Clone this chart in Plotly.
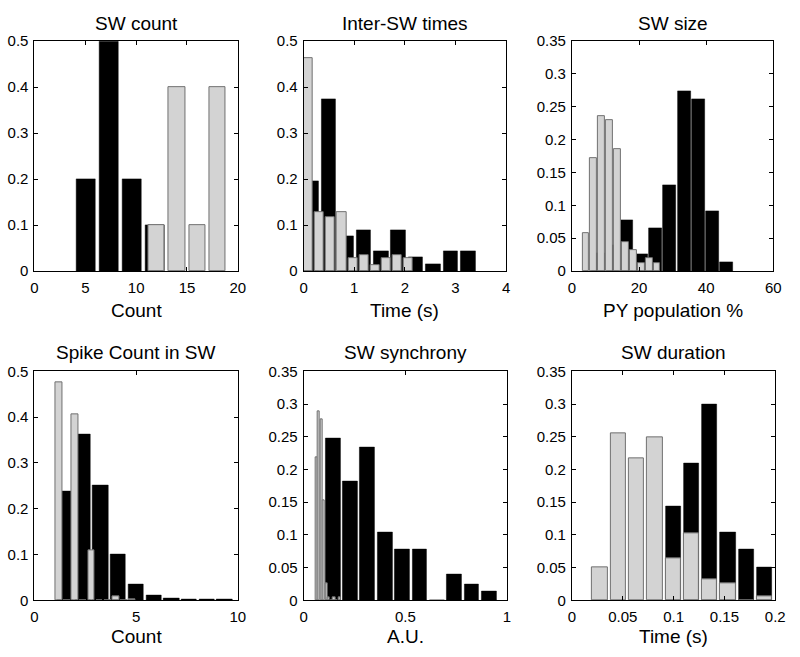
import plotly.graph_objects as go

# SW count
count_black_x = [5.1, 7.35, 9.6, 11.85]
count_black_y = [0.2, 0.5, 0.2, 0.1]
count_gray_x = [12, 14, 16, 18]
count_gray_y = [0.1, 0.4, 0.1, 0.4]

# Inter-SW times
inter_black_x = [0.15, 0.495, 0.84, 1.185, 1.53, 1.87, 2.215, 2.56, 2.905, 3.25]
inter_black_y = [0.196, 0.374, 0.076, 0.09, 0.044, 0.09, 0.03, 0.016, 0.044, 0.044]
inter_gray_x = [0.09, 0.31, 0.53, 0.75, 0.97, 1.19, 1.41, 1.63, 1.85, 2.07]
inter_gray_y = [0.463, 0.129, 0.117, 0.129, 0.027, 0.034, 0.013, 0.027, 0.034, 0.027]

# SW size
size_black_x = [8.0, 12.2, 16.4, 20.7, 24.9, 29.15, 33.4, 37.6, 41.85, 46.1]
size_black_y = [0.028, 0.04, 0.078, 0.026, 0.065, 0.131, 0.274, 0.261, 0.091, 0.013]
size_gray_x = [4.15, 6.5, 8.86, 11.2, 13.57, 15.93, 18.28, 20.64, 22.99, 25.35]
size_gray_y = [0.058, 0.172, 0.236, 0.23, 0.186, 0.044, 0.032, 0.012, 0.019, 0.012]

# Spike count in SW
spike_black_x = [1.51, 2.38, 3.25, 4.12, 4.99, 5.86, 6.73, 7.6, 8.47, 9.34]
spike_black_y = [0.238, 0.362, 0.252, 0.1, 0.035, 0.011, 0.004, 0.001, 0.001, 0.001]
spike_gray_x = [1.2, 1.6, 2.0, 2.4, 2.8, 3.2, 3.6, 4.0, 4.4, 4.8]
spike_gray_y = [0.475, 0, 0.405, 0, 0.11, 0, 0, 0.008, 0, 0.002]

# SW synchrony
sync_black_x = [0.144, 0.229, 0.314, 0.4, 0.485, 0.57, 0.655, 0.74, 0.826, 0.911]
sync_black_y = [0.247, 0.182, 0.234, 0.104, 0.078, 0.078, 0, 0.039, 0.025, 0.013]
sync_gray_x = [0.0625, 0.075, 0.0875, 0.1, 0.1125, 0.125, 0.1375, 0.15, 0.1625, 0.175]
sync_gray_y = [0.218, 0.289, 0.276, 0.153, 0.026, 0.005, 0, 0.005, 0, 0.005]

# SW duration
dur_x = [0.0275, 0.0455, 0.0635, 0.0815, 0.0995, 0.1175, 0.1355, 0.1535, 0.1715, 0.1895]
dur_black_y = [0, 0, 0, 0, 0.143, 0.209, 0.3, 0.104, 0.078, 0.051]
dur_gray_y = [0.05, 0.255, 0.217, 0.249, 0.064, 0.102, 0.032, 0.026, 0, 0.006]

W, H = 800, 657
FONT = "Liberation Sans, Arial, sans-serif"

# (title, xlabel, black x/y/width, gray x/y/width, x range, x ticks, y max, y step, box px)
panels = [
    ("SW count", "Count", count_black_x, count_black_y, 1.85, count_gray_x, count_gray_y, 1.6,
     [0, 20], [0, 5, 10, 15, 20], 0.5, 0.1, (31, 238, 33, 269)),
    ("Inter-SW times", "Time (s)", inter_black_x, inter_black_y, 0.29, inter_gray_x, inter_gray_y, 0.18,
     [0, 4], [0, 1, 2, 3, 4], 0.5, 0.1, (305, 511, 33, 269)),
    ("SW size", "PY population %", size_black_x, size_black_y, 3.8, size_gray_x, size_gray_y, 2.0,
     [0, 60], [0, 20, 40, 60], 0.35, 0.05, (578, 783, 33, 269)),
    ("Spike Count in SW", "Count", spike_black_x, spike_black_y, 0.75, spike_gray_x, spike_gray_y, 0.33,
     [0, 10], [0, 5, 10], 0.5, 0.1, (31, 238, 372, 607)),
    ("SW synchrony", "A.U.", sync_black_x, sync_black_y, 0.073, sync_gray_x, sync_gray_y, 0.0105,
     [0, 1], [0, 0.5, 1], 0.35, 0.05, (305, 512, 372, 607)),
    ("SW duration", "Time (s)", dur_x, dur_black_y, 0.0151, dur_x, dur_gray_y, 0.0151,
     [0, 0.2], [0, 0.05, 0.1, 0.15, 0.2], 0.35, 0.05, (578, 785, 372, 607)),
]

fig = go.Figure()
annotations = []
for i, (title, xlabel, bx, by, bw, gx, gy, gw, xr, xt, ymax, ystep, box) in enumerate(panels):
    n = "" if i == 0 else str(i + 1)
    x0, x1, y0, y1 = box
    fig.add_trace(go.Bar(x=bx, y=by, width=bw, xaxis="x" + n, yaxis="y" + n,
                         marker=dict(color="black", line=dict(color="black", width=0.5)),
                         showlegend=False))
    fig.add_trace(go.Bar(x=gx, y=gy, width=gw, xaxis="x" + n, yaxis="y" + n,
                         marker=dict(color="#d3d3d3", line=dict(color="#707070", width=1)),
                         showlegend=False))
    axis_style = dict(showline=True, linecolor="black", linewidth=1, mirror="ticks",
                      ticks="inside", ticklen=4, tickcolor="black", showgrid=False,
                      zeroline=False, tickfont=dict(family=FONT, size=15, color="black"))
    fig.layout["xaxis" + n] = dict(domain=[x0 / W, x1 / W], anchor="y" + n, range=xr,
                                   tickvals=xt, ticklabelstandoff=3, **axis_style)
    fig.layout["yaxis" + n] = dict(domain=[1 - y1 / H, 1 - y0 / H], anchor="x" + n,
                                   range=[0, ymax], dtick=ystep, tick0=0,
                                   ticklabelstandoff=2, **axis_style)
    cx = (x0 + x1) / 2 / W
    ty = 14.5 if y0 < 100 else 353
    ly = 309 if y0 < 100 else 644
    annotations.append(dict(text=title, x=cx, y=1 - ty / H, xref="paper", yref="paper",
                            showarrow=False, xanchor="center", yanchor="middle",
                            font=dict(family=FONT, size=19, color="black")))
    annotations.append(dict(text=xlabel, x=cx, y=1 - ly / H, xref="paper", yref="paper",
                            showarrow=False, xanchor="center", yanchor="middle",
                            font=dict(family=FONT, size=19, color="black")))

fig.update_layout(autosize=True, margin=dict(l=0, r=0, t=0, b=0),
                  barmode="overlay", bargap=0, plot_bgcolor="white", paper_bgcolor="white",
                  annotations=annotations)

# fill the window exactly: drop the default body margin, then let plotly re-measure
fix_page = (
    "document.documentElement.style.margin='0';"
    "document.body.style.margin='0';"
    "document.body.style.overflow='hidden';"
    "Plotly.Plots.resize(document.getElementById('{plot_id}'));"
)
fig.write_html("out.html", default_width="100vw", default_height="100vh",
               config={"displayModeBar": False, "responsive": True},
               post_script=fix_page)
